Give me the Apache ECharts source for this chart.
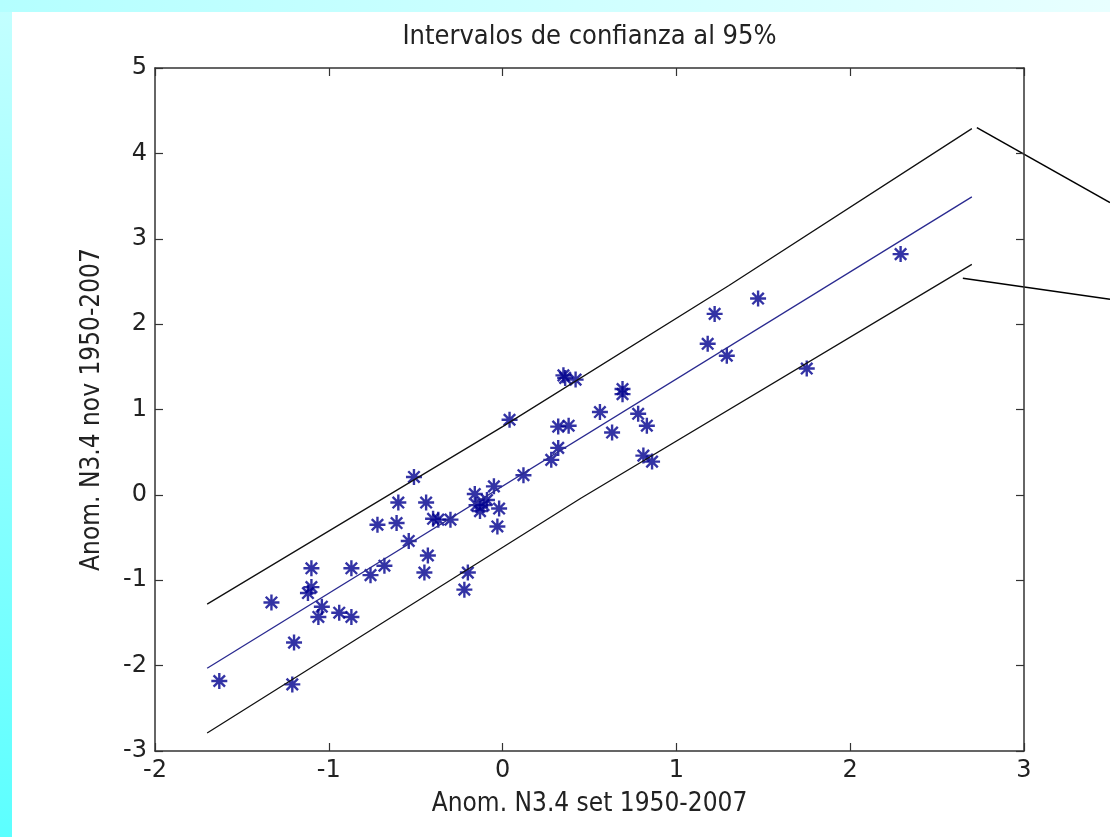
<!DOCTYPE html>
<html>
<head>
<meta charset="utf-8">
<script src="https://cdn.jsdelivr.net/npm/echarts@6/dist/echarts.min.js"></script>
<style>
  html, body { margin: 0; padding: 0; background: #fff; }
  #frame { position: relative; width: 1110px; height: 837px; background: #fff; overflow: hidden; }
  #leftband { position: absolute; left: 0; top: 0; width: 12px; height: 837px; background: linear-gradient(to bottom, #c4ffff, #5cffff); }
  #topband { position: absolute; left: 0; top: 0; width: 1110px; height: 12px; background: linear-gradient(to right, #b4ffff, #e8ffff); }
  #chart { position: absolute; left: 0; top: 0; width: 1110px; height: 837px; }
</style>
</head>
<body>
<div id="frame">
  <div id="leftband"></div>
  <div id="topband"></div>
  <div id="chart"></div>
</div>
<script>
// anomalías N3.4: septiembre (x) vs noviembre (y)
const anomSet = [
  -1.63, -1.33, -1.20, -1.21, -1.10, -1.10, -1.12, -1.04, -1.06, -0.94,
  -0.87, -0.87, -0.76, -0.68, -0.72, -0.61, -0.60, -0.51, -0.54, -0.44,
  -0.43, -0.45, -0.40, -0.37, -0.30, -0.20, -0.22, -0.16, -0.15, -0.09,
  -0.13, -0.05, -0.03, 0.04, 0.35, 0.36, 0.42, 0.32, 0.38, 0.32,
  0.28, 0.12, 0.56, 0.69, 0.69, 0.63, 0.78, 0.83, 0.81, 0.86,
  2.29, 1.47, 1.22, 1.18, 1.29, 1.75, -0.02, -0.11
];
const anomNov = [
  -2.18, -1.26, -1.73, -2.22, -0.86, -1.08, -1.15, -1.31, -1.43, -1.38,
  -1.43, -0.86, -0.94, -0.83, -0.35, -0.33, -0.09, 0.21, -0.54, -0.09,
  -0.71, -0.91, -0.28, -0.29, -0.29, -0.91, -1.11, 0.01, -0.12, -0.06,
  -0.19, 0.10, -0.37, 0.88, 1.40, 1.37, 1.35, 0.80, 0.81, 0.55,
  0.41, 0.23, 0.97, 1.24, 1.18, 0.73, 0.95, 0.81, 0.46, 0.39,
  2.82, 2.30, 2.12, 1.77, 1.63, 1.48, -0.16, -0.12
];

// recta de regresión y límites del intervalo al 95%
const fitX = [-1.70, 2.70];
const fitY = [-2.03, 3.49];
const upperX = [-1.70, 0.00, 1.30, 2.70];
const upperY = [-1.28, 0.80, 2.45, 4.29];
const lowerX = [-1.70, 0.45, 2.70];
const lowerY = [-2.79, -0.04, 2.70];

const xTicks = { min: -2, max: 3, step: 1 };
const yTicks = { min: -3, max: 5, step: 1 };

function zip(a, b) {
  return a.map((v, i) => [v, b[i]]);
}

const axisColor = '#333';
const tickFont = { fontFamily: 'DejaVu Sans', fontSize: 24, color: '#222' };
const nameFont = { fontFamily: "'Liberation Sans Narrow', 'DejaVu Sans Condensed', sans-serif", fontSize: 26, color: '#222' };

function makeAxis(t, pos, showLabel, extra) {
  return Object.assign({
    type: 'value',
    position: pos,
    min: t.min,
    max: t.max,
    interval: t.step,
    axisLine: { show: true, onZero: false, lineStyle: { color: axisColor, width: 1.5 } },
    axisTick: { show: true, inside: true, length: 8, lineStyle: { color: axisColor, width: 1.2 } },
    axisLabel: Object.assign({ show: showLabel }, tickFont),
    splitLine: { show: false }
  }, extra || {});
}

// asterisco de matlab
const star = 'path://M0,-7L0,7M-7,0L7,0M-5,-5L5,5M-5,5L5,-5';

const myChart = echarts.init(document.getElementById('chart'));
const option = {
  animation: false,
  backgroundColor: 'transparent',
  grid: { left: 155, right: 86, top: 68, bottom: 86 },
  xAxis: [
    makeAxis(xTicks, 'bottom', true, {
      name: 'Anom. N3.4 set 1950-2007',
      nameLocation: 'middle',
      nameGap: 40,
      nameTextStyle: nameFont
    }),
    makeAxis(xTicks, 'top', false)
  ],
  yAxis: [
    makeAxis(yTicks, 'left', true, {
      name: 'Anom. N3.4 nov 1950-2007',
      nameLocation: 'middle',
      nameGap: 50,
      nameTextStyle: nameFont
    }),
    makeAxis(yTicks, 'right', false)
  ],
  series: [
    {
      type: 'line',
      data: zip(upperX, upperY),
      showSymbol: false,
      lineStyle: { color: '#111', width: 1.3 }
    },
    {
      type: 'line',
      data: zip(fitX, fitY),
      showSymbol: false,
      lineStyle: { color: '#2a2a90', width: 1.3 }
    },
    {
      type: 'line',
      data: zip(lowerX, lowerY),
      showSymbol: false,
      lineStyle: { color: '#111', width: 1.3 }
    },
    {
      type: 'scatter',
      data: zip(anomSet, anomNov),
      symbol: star,
      symbolSize: 16,
      itemStyle: { color: '#00008f', borderColor: '#00008f', borderWidth: 2.4 }
    }
  ]
};
myChart.setOption(option);

// título y flechas de anotación
const upEnd = myChart.convertToPixel({ gridIndex: 0 }, [upperX[upperX.length - 1], upperY[upperY.length - 1]]);
const loEnd = myChart.convertToPixel({ gridIndex: 0 }, [lowerX[lowerX.length - 1], lowerY[lowerY.length - 1]]);
const gridCenter = (155 + 1110 - 86) / 2;
myChart.setOption({
  graphic: [
    {
      type: 'text',
      x: gridCenter,
      y: 37,
      style: {
        text: 'Intervalos de confianza al 95%',
        textAlign: 'center',
        textVerticalAlign: 'middle',
        font: "27px 'Liberation Sans Narrow', 'DejaVu Sans Condensed', sans-serif",
        fill: '#222'
      }
    },
    {
      type: 'line',
      shape: { x1: upEnd[0] + 5, y1: upEnd[1] - 1, x2: 1110, y2: upEnd[1] + 74 },
      style: { stroke: '#000', lineWidth: 1.5 }
    },
    {
      type: 'line',
      shape: { x1: loEnd[0] - 9, y1: loEnd[1] + 14, x2: 1110, y2: loEnd[1] + 35 },
      style: { stroke: '#000', lineWidth: 1.5 }
    }
  ]
});
</script>
</body>
</html>
